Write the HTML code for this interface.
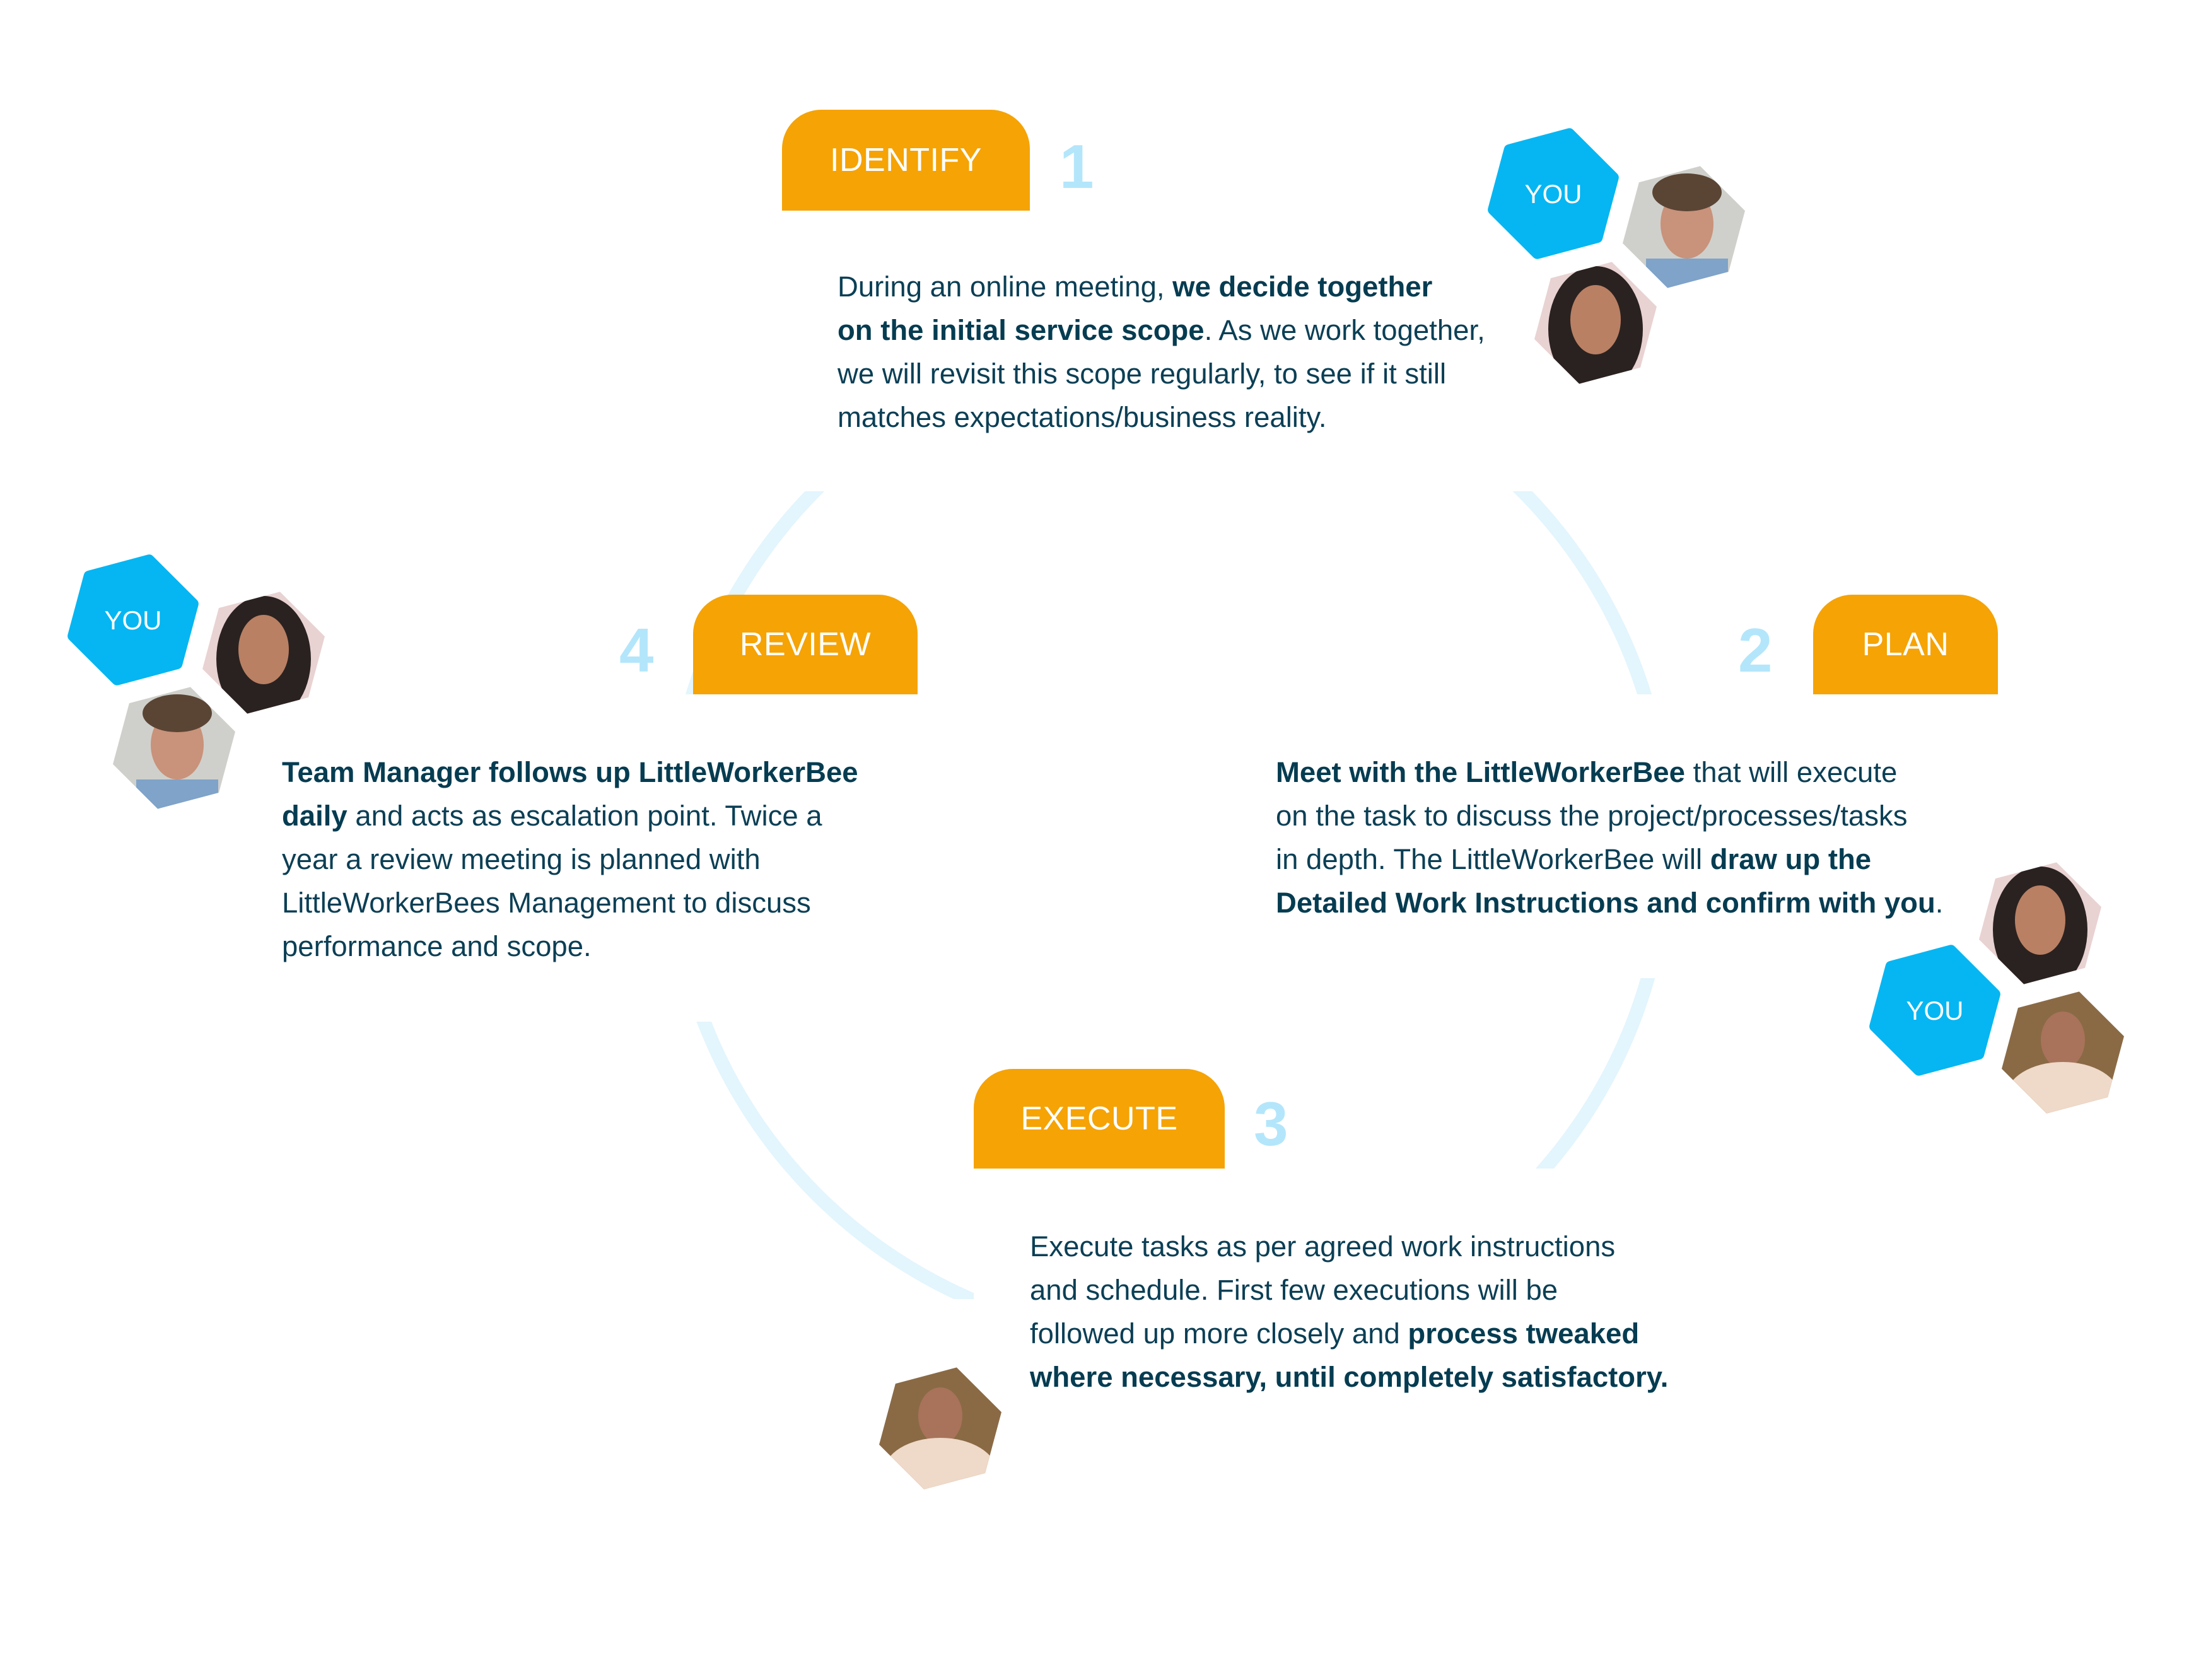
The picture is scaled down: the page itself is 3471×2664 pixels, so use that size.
<!DOCTYPE html>
<html><head><meta charset="utf-8"><style>
html,body{margin:0;padding:0;background:#fff}
body{width:3471px;height:2664px;position:relative;overflow:hidden;font-family:"Liberation Sans",sans-serif}
.tab{position:absolute;background:#f5a305;border-radius:62px 62px 0 0;color:#fff;font-size:52px;display:flex;align-items:center;justify-content:center;letter-spacing:0.5px}
.num{position:absolute;color:#b3e6fb;font-size:98px;font-weight:bold;line-height:1}
.txt{position:absolute;color:#0b3f55;font-size:45.5px;line-height:69px;white-space:nowrap}
.txt b{font-weight:bold;color:#053c51}
svg{position:absolute;left:0;top:0}
</style></head><body>
<svg width="3471" height="2664">
<defs>
<clipPath id="c">
<rect x="0" y="779" width="1853" height="322"/>
<rect x="1853" y="779" width="1618" height="322"/>
<rect x="1853" y="1551" width="1618" height="302"/>
<rect x="0" y="1620" width="1544" height="440"/>
</clipPath>
<clipPath id="h"><polygon points="0,-100 87,-50 87,50 0,100 -87,50 -87,-50" transform="rotate(15)"/></clipPath>
<g id="hex"><polygon points="0,-98 85,-49 85,49 0,98 -85,49 -85,-49" transform="rotate(15)" stroke-linejoin="round" stroke-width="18"/></g>
<g id="man"><g clip-path="url(#h)"><rect x="-110" y="-110" width="220" height="220" fill="#cfd0cb"/><ellipse cx="5" cy="-5" rx="42" ry="55" fill="#c9927a"/><ellipse cx="5" cy="-55" rx="55" ry="30" fill="#5a4535"/><rect x="-60" y="50" width="130" height="70" fill="#7fa3c9"/></g></g>
<g id="wom"><g clip-path="url(#h)"><rect x="-110" y="-110" width="220" height="220" fill="#e9d2d2"/><ellipse cx="0" cy="10" rx="75" ry="100" fill="#2a2220"/><ellipse cx="0" cy="-5" rx="40" ry="55" fill="#b98064"/></g></g>
<g id="wom2"><g clip-path="url(#h)"><rect x="-110" y="-110" width="220" height="220" fill="#8a6a45"/><ellipse cx="0" cy="-20" rx="35" ry="45" fill="#a8735a"/><ellipse cx="0" cy="70" rx="90" ry="55" fill="#efd9c8"/></g></g>
</defs>
<circle cx="1853" cy="1335" r="790" fill="none" stroke="#e3f5fd" stroke-width="22" clip-path="url(#c)"/>
<g fill="#05b6f2" stroke="#05b6f2"><use href="#hex" x="2463" y="307"/><use href="#hex" x="211" y="983"/><use href="#hex" x="3068" y="1602"/></g>
<use href="#man" x="2670" y="360"/><use href="#wom" x="2530" y="512"/>
<use href="#wom" x="418" y="1035"/><use href="#man" x="276" y="1186"/>
<use href="#wom" x="3235" y="1464"/><use href="#wom2" x="3271" y="1669"/>
<use href="#wom2" x="1491" y="2265"/>
<g fill="#fff" font-family="Liberation Sans,sans-serif" font-size="42" text-anchor="middle">
<text x="2463" y="322">YOU</text><text x="211" y="998">YOU</text><text x="3068" y="1617">YOU</text></g>
</svg>
<div class="tab" style="left:1240px;top:174px;width:393px;height:160px">IDENTIFY</div>
<div class="num" style="left:1680px;top:215px">1</div>
<div class="tab" style="left:1099px;top:943px;width:356px;height:158px">REVIEW</div>
<div class="num" style="left:982px;top:982px">4</div>
<div class="tab" style="left:2875px;top:943px;width:293px;height:158px">PLAN</div>
<div class="num" style="left:2756px;top:982px">2</div>
<div class="tab" style="left:1544px;top:1695px;width:398px;height:158px">EXECUTE</div>
<div class="num" style="left:1988px;top:1733px">3</div>
<div class="txt" style="left:1328px;top:420px">During an online meeting, <b>we decide together</b><br><b>on the initial service scope</b>. As we work together,<br>we will revisit this scope regularly, to see if it still<br>matches expectations/business reality.</div>
<div class="txt" style="left:447px;top:1190px"><b>Team Manager follows up LittleWorkerBee</b><br><b>daily</b> and acts as escalation point. Twice a<br>year a review meeting is planned with<br>LittleWorkerBees Management to discuss<br>performance and scope.</div>
<div class="txt" style="left:2023px;top:1190px"><b>Meet with the LittleWorkerBee</b> that will execute<br>on the task to discuss the project/processes/tasks<br>in depth. The LittleWorkerBee will <b>draw up the</b><br><b>Detailed Work Instructions and confirm with you</b>.</div>
<div class="txt" style="left:1633px;top:1942px">Execute tasks as per agreed work instructions<br>and schedule. First few executions will be<br>followed up more closely and <b>process tweaked</b><br><b>where necessary, until completely satisfactory.</b></div>
</body></html>
